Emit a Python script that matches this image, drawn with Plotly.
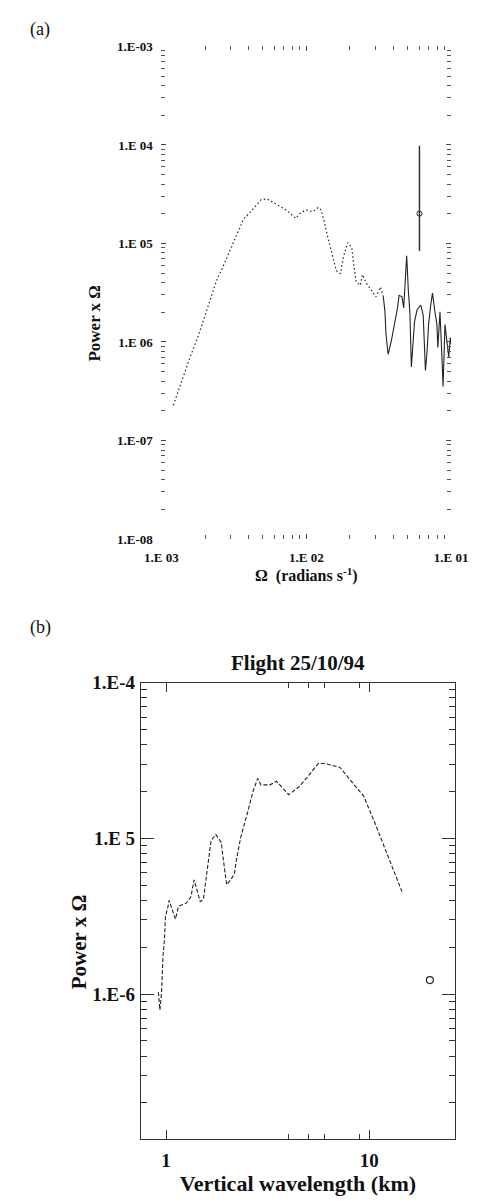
import plotly.graph_objects as go

# ---------------- Panel (a) data ----------------
omega_smooth = [1.21e-3, 1.31e-3, 1.56e-3, 1.81e-3, 2.15e-3, 2.26e-3, 2.43e-3, 2.59e-3,
                2.75e-3, 2.96e-3, 3.11e-3, 3.32e-3, 3.52e-3, 3.66e-3, 4.19e-3, 4.86e-3,
                5.36e-3, 7.38e-3, 7.75e-3, 8.47e-3, 8.99e-3, 9.93e-3, 1.10e-2, 1.21e-2,
                1.26e-2, 1.33e-2, 1.40e-2, 1.46e-2, 1.53e-2, 1.61e-2, 1.72e-2, 1.80e-2,
                1.93e-2, 2.06e-2, 2.11e-2, 2.21e-2, 2.36e-2, 2.44e-2, 2.60e-2, 2.80e-2,
                3.02e-2, 3.25e-2, 3.40e-2]
power_smooth = [2.28e-7, 3.21e-7, 6.7e-7, 1.19e-6, 2.60e-6, 3.22e-6, 4.42e-6, 5.31e-6,
                6.52e-6, 8.4e-6, 1.02e-5, 1.24e-5, 1.49e-5, 1.75e-5, 2.15e-5, 2.77e-5,
                2.84e-5, 2.15e-5, 2.01e-5, 1.80e-5, 2.01e-5, 2.20e-5, 2.10e-5, 2.32e-5,
                2.20e-5, 1.67e-5, 1.19e-5, 9.4e-6, 7.2e-6, 5.31e-6, 4.95e-6, 7.2e-6,
                1.02e-5, 9.06e-6, 6.67e-6, 4.05e-6, 3.76e-6, 4.84e-6, 3.94e-6, 3.35e-6,
                2.87e-6, 3.61e-6, 2.87e-6]

omega_noisy = [3.40e-2, 3.49e-2, 3.55e-2, 3.67e-2, 3.86e-2, 4.06e-2, 4.26e-2, 4.37e-2,
               4.58e-2, 4.70e-2, 4.82e-2, 4.93e-2, 5.06e-2, 5.19e-2, 5.31e-2, 5.45e-2,
               5.59e-2, 5.81e-2, 6.16e-2, 6.41e-2, 6.64e-2, 6.81e-2, 6.98e-2, 7.22e-2,
               7.43e-2, 7.69e-2, 7.97e-2, 8.09e-2, 8.37e-2, 8.63e-2, 8.79e-2, 9.06e-2,
               9.38e-2, 9.62e-2, 9.86e-2, 1.0e-1]
power_noisy = [2.87e-6, 2.03e-6, 1.19e-6, 7.5e-7, 1.02e-6, 1.50e-6, 2.21e-6, 2.98e-6,
               2.87e-6, 2.21e-6, 4.73e-6, 7.5e-6, 3.35e-6, 1.97e-6, 5.57e-7, 8.8e-7,
               1.62e-6, 2.11e-6, 2.37e-6, 1.88e-6, 5.13e-7, 7.87e-7, 1.50e-6, 2.37e-6,
               3.13e-6, 2.11e-6, 1.50e-6, 8.8e-7, 2.03e-6, 7.0e-7, 3.52e-7, 1.50e-6,
               1.02e-6, 7.0e-7, 1.11e-6, 9.5e-7]

err_omega = [0.0604]
err_power = [2.01e-5]
err_plus = [7.8e-5]
err_minus = [1.17e-5]

a_yticks = [1e-8, 1e-7, 1e-6, 1e-5, 1e-4, 1e-3]
a_yticktext = ["1.E-08", "1.E-07", "1.E 06", "1.E 05", "1.E 04", "1.E-03"]
a_xticks = [1e-3, 1e-2, 1e-1]
a_xticktext = ["1.E 03", "1.E 02", "1.E 01"]

# ---------------- Panel (b) data ----------------
wavelength = [0.916, 0.932, 0.949, 0.966, 0.982, 0.993, 1.018, 1.035, 1.111, 1.151,
              1.257, 1.326, 1.373, 1.421, 1.473, 1.526, 1.58, 1.625, 1.665, 1.756,
              1.871, 1.898, 1.94, 1.987, 2.094, 2.17, 2.21, 2.327, 2.5, 2.68,
              2.825, 2.93, 3.25, 3.49, 4.02, 4.54, 5.05, 5.61, 6.03, 7.18,
              8.56, 9.39, 10.66, 11.97, 13.43, 14.5]
power_b = [1.03e-6, 7.9e-7, 1.01e-6, 1.77e-6, 2.26e-6, 3.16e-6, 3.57e-6, 4.0e-6, 3.03e-6, 3.66e-6,
           3.84e-6, 4.23e-6, 5.42e-6, 4.55e-6, 3.93e-6, 4.05e-6, 5.66e-6, 7.8e-6, 9.7e-6, 1.06e-5,
           9.4e-6, 7.9e-6, 6.55e-6, 5.04e-6, 5.5e-6, 5.92e-6, 7.05e-6, 1.01e-5, 1.42e-5, 2.01e-5,
           2.43e-5, 2.21e-5, 2.21e-5, 2.33e-5, 1.91e-5, 2.16e-5, 2.55e-5, 3.03e-5, 3.03e-5, 2.86e-5,
           2.16e-5, 1.87e-5, 1.26e-5, 8.5e-6, 5.92e-6, 4.55e-6]
circle_wavelength = [19.9]
circle_power = [1.23e-6]

b_yticks = [1e-6, 1e-5, 1e-4]
b_yticktext = ["1.E-6", "1.E 5", "1.E-4"]
b_xticks = [1, 10]
b_xticktext = ["1", "10"]
b_xminor = [4, 5, 6, 9]

a_minor = [m * 10.0 ** e for e in range(-8, -3) for m in range(2, 10)]
a_xminor = [m * 10.0 ** e for e in range(-3, -1) for m in range(2, 10)]
b_minor = [m * 10.0 ** e for e in range(-7, -4) for m in range(2, 10)]

W, H = 498, 1203
def px(x):
    return x / W
def py(y):
    return 1 - y / H

SERIF = "Liberation Serif, Times New Roman, serif"
INK = "#222222"
TXT = "#111111"

fig = go.Figure()

fig.add_trace(go.Scatter(x=omega_smooth, y=power_smooth, mode="lines",
                         line=dict(color=INK, width=1.2, dash="1.5px,2.5px"),
                         xaxis="x", yaxis="y", showlegend=False))
fig.add_trace(go.Scatter(x=omega_noisy, y=power_noisy, mode="lines",
                         line=dict(color=INK, width=1.1),
                         xaxis="x", yaxis="y", showlegend=False))
fig.add_trace(go.Scatter(x=err_omega, y=err_power, mode="markers",
                         marker=dict(symbol="circle-open", size=5, color=INK, line=dict(width=1)),
                         error_y=dict(type="data", array=err_plus, arrayminus=err_minus,
                                      width=0, thickness=1.5, color="#333333"),
                         xaxis="x", yaxis="y", showlegend=False))

fig.add_trace(go.Scatter(x=wavelength, y=power_b, mode="lines",
                         line=dict(color=INK, width=1.1, dash="4px,2px"),
                         xaxis="x2", yaxis="y2", showlegend=False))
fig.add_trace(go.Scatter(x=circle_wavelength, y=circle_power, mode="markers",
                         marker=dict(symbol="circle-open", size=7, color=INK, line=dict(width=1.2)),
                         xaxis="x2", yaxis="y2", showlegend=False))

tickfont_a = dict(family=SERIF, size=13, color=TXT, weight="bold")
tickfont_b = dict(family=SERIF, size=19, color=TXT, weight="bold")

fig.update_layout(
    width=W, height=H,
    margin=dict(l=0, r=0, t=0, b=0),
    paper_bgcolor="white", plot_bgcolor="white",
    showlegend=False,
    xaxis=dict(type="log", range=[-3, -1], domain=[px(155), px(466)], anchor="y",
               showgrid=False, zeroline=False, showline=True, linecolor="rgba(0,0,0,0)",
               mirror="ticks", ticks="inside", ticklen=5, tickcolor="#444444", tickwidth=1,
               tickmode="array", tickvals=a_xticks, ticktext=a_xticktext,
               tickfont=tickfont_a, ticklabelstandoff=6,
               minor=dict(tickmode="array", tickvals=a_xminor, ticks="inside", ticklen=4,
                          tickcolor="#555555", showgrid=False),
               title=dict(text="Ω  (radians s<sup>-1</sup>)", standoff=6,
                          font=dict(family=SERIF, size=16, color=TXT, weight="bold"))),
    yaxis=dict(type="log", range=[-8, -3], domain=[py(537), py(37)], anchor="x",
               showgrid=False, zeroline=False, showline=True, linecolor="rgba(0,0,0,0)",
               mirror="ticks", ticks="inside", ticklen=5, tickcolor="#444444", tickwidth=1,
               tickmode="array", tickvals=a_yticks, ticktext=a_yticktext,
               tickfont=tickfont_a, ticklabelstandoff=5,
               minor=dict(tickmode="array", tickvals=a_minor, ticks="inside", ticklen=4,
                          tickcolor="#555555", showgrid=False)),
    xaxis2=dict(type="log", range=[-0.124, 1.422], domain=[px(133), px(470)], anchor="y2",
                showgrid=False, zeroline=False, showline=True, linecolor="#333333", linewidth=1,
                mirror="ticks", ticks="inside", ticklen=9, tickcolor="#333333", tickwidth=1,
                tickmode="array", tickvals=b_xticks, ticktext=b_xticktext,
                tickfont=tickfont_b, ticklabelstandoff=4,
                minor=dict(tickmode="array", tickvals=b_xminor, ticks="inside", ticklen=5,
                           tickcolor="#333333", showgrid=False),
                title=dict(text="Vertical wavelength (km)", standoff=4,
                           font=dict(family=SERIF, size=22, color=TXT, weight="bold"))),
    yaxis2=dict(type="log", range=[-6.93, -4], domain=[py(1146), py(683)], anchor="x2",
                showgrid=False, zeroline=False, showline=True, linecolor="#333333", linewidth=1,
                mirror="ticks", ticks="inside", ticklen=13, tickcolor="#333333", tickwidth=1,
                tickmode="array", tickvals=b_yticks, ticktext=b_yticktext,
                tickfont=tickfont_b, ticklabelstandoff=1,
                minor=dict(tickmode="array", tickvals=b_minor, ticks="inside", ticklen=6,
                           tickcolor="#333333", showgrid=False)),
    annotations=[
        dict(text="(a)", x=px(12), y=py(20), xref="paper", yref="paper",
             xanchor="left", yanchor="middle", showarrow=False,
             font=dict(family=SERIF, size=18, color=TXT)),
        dict(text="(b)", x=px(12), y=py(627), xref="paper", yref="paper",
             xanchor="left", yanchor="middle", showarrow=False,
             font=dict(family=SERIF, size=18, color=TXT)),
        dict(text="Flight 25/10/94", x=px(302), y=py(663), xref="paper", yref="paper",
             xanchor="center", yanchor="middle", showarrow=False,
             font=dict(family=SERIF, size=21, color=TXT, weight="bold")),
        dict(text="Power x Ω", x=px(83), y=py(318), xref="paper", yref="paper",
             xanchor="center", yanchor="middle", showarrow=False, textangle=-90,
             font=dict(family=SERIF, size=17, color=TXT, weight="bold")),
        dict(text="Power x Ω", x=px(66), y=py(946), xref="paper", yref="paper",
             xanchor="center", yanchor="middle", showarrow=False, textangle=-90,
             font=dict(family=SERIF, size=21, color=TXT, weight="bold")),
    ],
)

fig.write_html("out.html")
